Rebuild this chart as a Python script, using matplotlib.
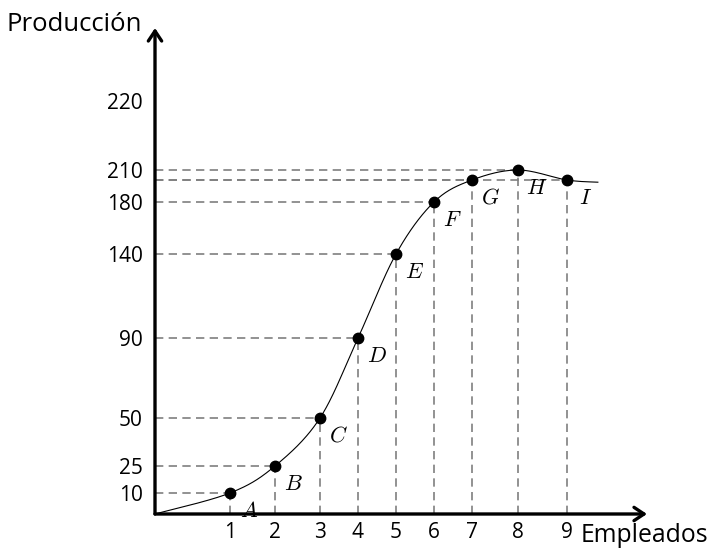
import numpy as np
import matplotlib
matplotlib.use("Agg")
import matplotlib.pyplot as plt

plt.rcParams['font.family'] = ['Open Sans', 'DejaVu Sans']
plt.rcParams['mathtext.fontset'] = 'cm'

# data
empleados = [1, 2, 3, 4, 5, 6, 7, 8, 9]
produccion = [10, 25, 50, 90, 140, 180, 200, 210, 200]
etiquetas = ['A', 'B', 'C', 'D', 'E', 'F', 'G', 'H', 'I']
xtick_vals = [1, 2, 3, 4, 5, 6, 7, 8, 9]
ytick_vals = [10, 25, 50, 90, 140, 180, 210, 220]
curva_x = [0] + empleados + [9.63]
curva_y = [0] + produccion + [198]

# the original axes are hand-spaced, not linear: value -> pixel offset
x_ancla_v = [-3, 0, 1, 2, 3, 4, 5, 6, 7, 8, 9, 12]
x_ancla_p = [-225, 0, 75, 120, 165, 203, 241, 279, 317, 363, 412, 559]
y_ancla_v = [-50, 0, 10, 25, 50, 90, 140, 180, 200, 210, 220, 300]
y_ancla_p = [-105, 0, 21, 48, 96, 176, 260, 312, 334, 344, 413, 550]


def fx(v):
    return np.interp(v, x_ancla_v, x_ancla_p)


def ix(p):
    return np.interp(p, x_ancla_p, x_ancla_v)


def fy(v):
    return np.interp(v, y_ancla_v, y_ancla_p)


def iy(p):
    return np.interp(p, y_ancla_p, y_ancla_v)


def suave(px, py, n=40, t=1 / 6):
    """Catmull-Rom style smooth curve (like tikz plot[smooth])."""
    P = np.column_stack([px, py])
    P = np.vstack([P[0], P, P[-1]])
    out = []
    for i in range(1, len(P) - 2):
        p0, p1, p2, p3 = P[i - 1], P[i], P[i + 1], P[i + 2]
        c1 = p1 + t * (p2 - p0)
        c2 = p2 - t * (p3 - p1)
        s = np.linspace(0, 1, n)[:, None]
        b = ((1 - s) ** 3) * p1 + 3 * ((1 - s) ** 2) * s * c1 \
            + 3 * (1 - s) * s ** 2 * c2 + s ** 3 * p2
        out.append(b)
    out = np.vstack(out)
    return out[:, 0], out[:, 1]


W, H = 714, 548
ox, oy = 155, 34  # origin in pixels from left/bottom
fig = plt.figure(figsize=(W / 100, H / 100), dpi=100)
ax = fig.add_axes([ox / W, oy / H, (W - ox) / W, (H - oy) / H])
ax.set_xscale('function', functions=(fx, ix))
ax.set_yscale('function', functions=(fy, iy))
ax.set_xlim(0, ix(W - ox))
ax.set_ylim(0, iy(H - oy))
for s in ax.spines.values():
    s.set_visible(False)

gris = '#7f7f7f'
guion = (0, (5, 3.2))
for x, y in zip(empleados, produccion):
    ax.plot([0, x], [y, y], color=gris, lw=1.2, ls=guion, zorder=1)
    ax.plot([x, x], [0, y], color=gris, lw=1.2, ls=guion, zorder=1)

cx, cy = suave(fx(np.array(curva_x)), fy(np.array(curva_y)))
ax.plot(ix(cx), iy(cy), color='black', lw=0.8, zorder=2)

ax.plot(empleados, produccion, 'o', color='black', ms=7.5, zorder=3)
for x, y, lab in zip(empleados, produccion, etiquetas):
    ax.annotate('$' + lab + '$', (x, y), xytext=(13.5, -13), textcoords='offset points',
                ha='center', va='center', fontsize=16, zorder=4)

# axes with arrows
flecha = dict(arrowstyle='->,head_length=0.45,head_width=0.3', lw=2.4,
              color='black', mutation_scale=16, shrinkA=0, shrinkB=0)
ax.annotate('', xy=(ix(492), 0), xytext=(0, 0), arrowprops=flecha, annotation_clip=False)
ax.annotate('', xy=(0, iy(486)), xytext=(0, 0), arrowprops=flecha, annotation_clip=False)

ax.set_xticks(xtick_vals)
ax.set_xticklabels([str(v) for v in xtick_vals])
ax.set_yticks(ytick_vals)
ax.set_yticklabels([str(v) for v in ytick_vals])
ax.tick_params(length=0, labelsize=15)
ax.tick_params(axis='x', pad=6)
ax.tick_params(axis='y', pad=9)
ax.minorticks_off()

fig.text(142 / W, 1 - 31 / H, 'Producción', ha='right', va='baseline', fontsize=18.5)
fig.text(581 / W, 1 - 542 / H, 'Empleados', ha='left', va='baseline', fontsize=17.8)

fig.savefig('out.png', dpi=100)
